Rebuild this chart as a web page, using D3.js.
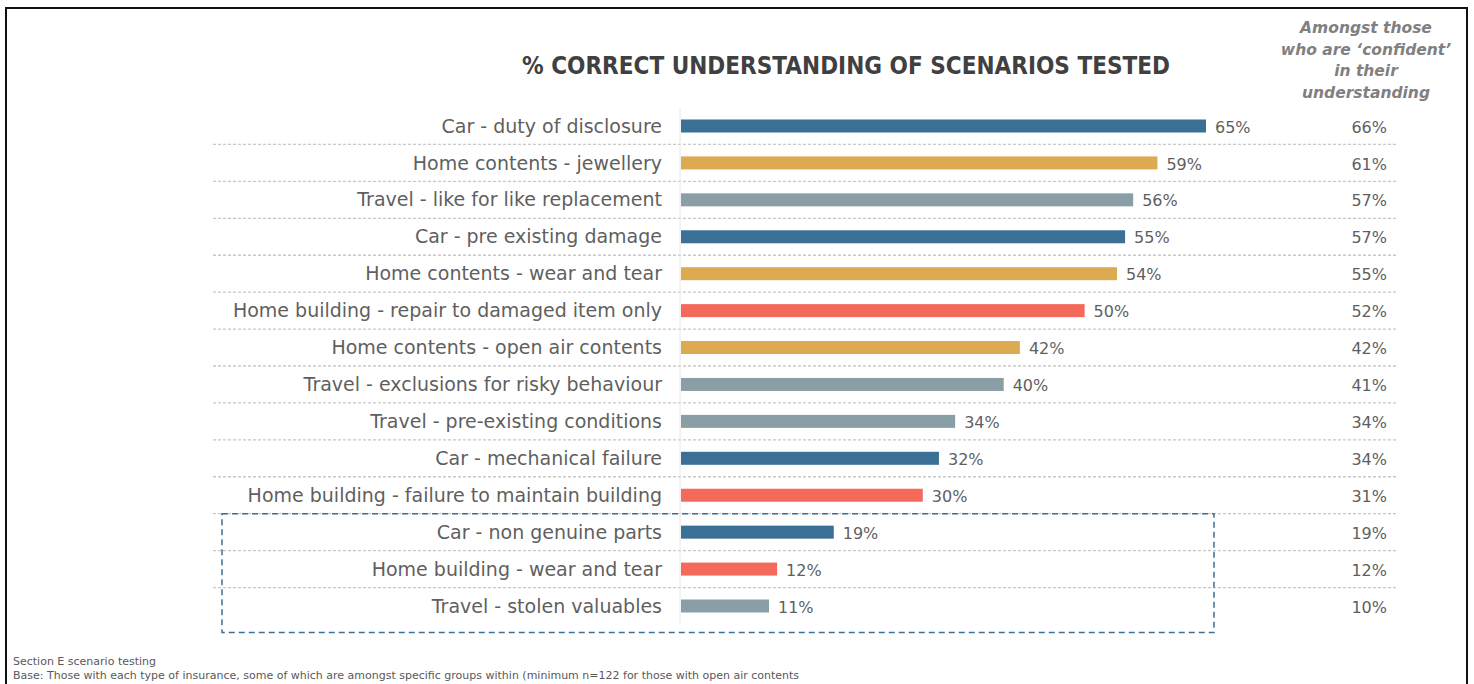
<!DOCTYPE html>
<html>
<head>
<meta charset="utf-8">
<script src="https://cdn.jsdelivr.net/npm/d3@7"></script>
<style>
  body { margin: 0; background: #fff; }
  text { font-family: "DejaVu Sans", sans-serif; }
</style>
</head>
<body>
<svg id="chart" width="1474" height="684"></svg>
<script>
// scenarios, top to bottom
let scenarios = [
  "Car - duty of disclosure",
  "Home contents - jewellery",
  "Travel - like for like replacement",
  "Car - pre existing damage",
  "Home contents - wear and tear",
  "Home building - repair to damaged item only",
  "Home contents - open air contents",
  "Travel - exclusions for risky behaviour",
  "Travel - pre-existing conditions",
  "Car - mechanical failure",
  "Home building - failure to maintain building",
  "Car - non genuine parts",
  "Home building - wear and tear",
  "Travel - stolen valuables"
];
let insurance = ["Car", "Home contents", "Travel", "Car", "Home contents", "Home building", "Home contents",
  "Travel", "Travel", "Car", "Home building", "Car", "Home building", "Travel"];
let correct = [65, 59, 56, 55, 54, 50, 42, 40, 34, 32, 30, 19, 12, 11];
let confident = [66, 61, 57, 57, 55, 52, 42, 41, 34, 34, 31, 19, 12, 10];
let boxed = ["Car - non genuine parts", "Home building - wear and tear", "Travel - stolen valuables"];

let title = "% CORRECT UNDERSTANDING OF SCENARIOS TESTED";
let sideHeader = ["Amongst those", "who are \u2018confident\u2019", "in their", "understanding"];
let notes = ["Section E scenario testing",
  "Base: Those with each type of insurance, some of which are amongst specific groups within (minimum n=122 for those with open air contents"];

let svg = d3.select("svg#chart");
let width = +svg.attr("width");
let height = +svg.attr("height");

// frame
svg.append("rect")
  .attr("x", 6).attr("y", 8)
  .attr("width", 1461).attr("height", 690)
  .attr("fill", "none").attr("stroke", "#111").attr("stroke-width", 2);

let xScale = d3.scaleLinear().domain([0, 65]).range([680, 1206]);
let yScale = d3.scalePoint().domain(scenarios).range([126, 606]);
let step = yScale.step();

let cscale = d3.scaleOrdinal()
  .domain(["Car", "Home contents", "Travel", "Home building"])
  .range(["#3b7096", "#dcaa50", "#8a9fa5", "#f4695a"]);

// dashed separators between rows
svg.selectAll("line.sep")
  .data(scenarios.slice(0, -1))
  .enter().append("line")
  .attr("class", "sep")
  .attr("x1", 213).attr("x2", 1397)
  .attr("y1", d => yScale(d) + step / 2)
  .attr("y2", d => yScale(d) + step / 2)
  .attr("stroke", "#c8c8c8")
  .attr("stroke-width", 1.3)
  .attr("stroke-dasharray", "3,2");

// axis line
svg.append("line")
  .attr("x1", xScale(0)).attr("x2", xScale(0))
  .attr("y1", 108).attr("y2", 623)
  .attr("stroke", "#e6e6e6").attr("stroke-width", 1);

// bars
svg.selectAll("rect.bar")
  .data(scenarios)
  .enter().append("rect")
  .attr("class", "bar")
  .attr("x", xScale(0) + 1)
  .attr("y", d => yScale(d) - 6.5)
  .attr("width", (d, i) => xScale(correct[i]) - xScale(0) - 1)
  .attr("height", 13)
  .attr("fill", (d, i) => cscale(insurance[i]));

// category labels
svg.selectAll("text.cat")
  .data(scenarios)
  .enter().append("text")
  .attr("class", "cat")
  .attr("x", 662)
  .attr("y", d => yScale(d))
  .attr("dy", "0.35em")
  .attr("text-anchor", "end")
  .attr("font-size", 19)
  .attr("fill", "#5f5f5f")
  .text(d => d);

// value labels
svg.selectAll("text.val")
  .data(scenarios)
  .enter().append("text")
  .attr("class", "val")
  .attr("x", (d, i) => xScale(correct[i]) + 9)
  .attr("y", d => yScale(d) + 1)
  .attr("dy", "0.35em")
  .attr("font-size", 16)
  .attr("fill", "#5f5f5f")
  .text((d, i) => correct[i] + "%");

// confident column
svg.selectAll("text.conf")
  .data(scenarios)
  .enter().append("text")
  .attr("class", "conf")
  .attr("x", 1387)
  .attr("y", d => yScale(d) + 1)
  .attr("dy", "0.35em")
  .attr("text-anchor", "end")
  .attr("font-size", 16)
  .attr("fill", "#5f5f5f")
  .text((d, i) => confident[i] + "%");

// dashed box around the low scores
let boxTop = yScale(boxed[0]) - step / 2;
let boxBottom = yScale(boxed[boxed.length - 1]) + step / 2 + 8;
svg.append("rect")
  .attr("x", 222).attr("y", boxTop)
  .attr("width", 1214 - 222).attr("height", boxBottom - boxTop)
  .attr("fill", "none")
  .attr("stroke", "#3b7096")
  .attr("stroke-width", 1.5)
  .attr("stroke-dasharray", "6,4");

// title
svg.append("text")
  .attr("x", 846).attr("y", 74)
  .attr("text-anchor", "middle")
  .attr("font-size", 25)
  .attr("font-weight", "bold")
  .attr("fill", "#404040")
  .attr("textLength", 648)
  .attr("lengthAdjust", "spacingAndGlyphs")
  .text(title);

// side header
svg.selectAll("text.head")
  .data(sideHeader)
  .enter().append("text")
  .attr("class", "head")
  .attr("x", 1366)
  .attr("y", (d, i) => 33 + i * 21.5)
  .attr("text-anchor", "middle")
  .attr("font-size", 15.5)
  .attr("font-weight", "bold")
  .attr("font-style", "italic")
  .attr("fill", "#808080")
  .text(d => d);

// footnotes
svg.selectAll("text.note")
  .data(notes)
  .enter().append("text")
  .attr("class", "note")
  .attr("x", 13)
  .attr("y", (d, i) => 665 + i * 14)
  .attr("font-size", 11)
  .attr("fill", "#595959")
  .text(d => d);
</script>
</body>
</html>
